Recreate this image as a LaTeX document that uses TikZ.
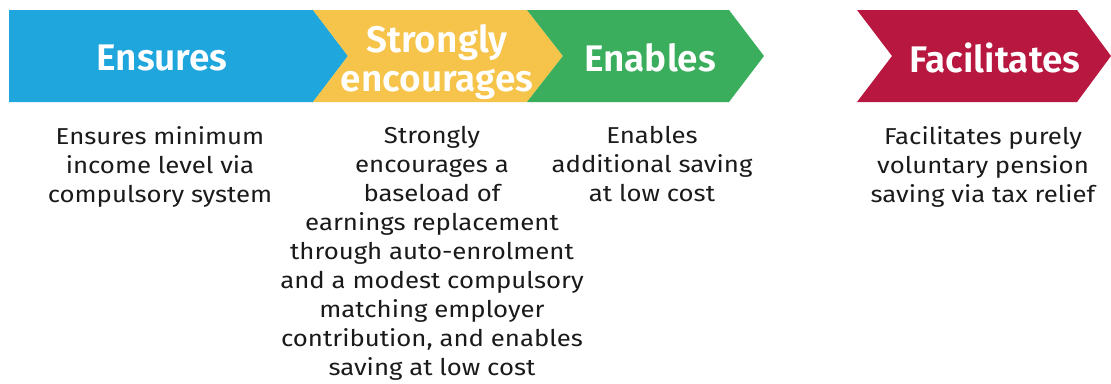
\documentclass[tikz,border=0pt]{standalone}
\usepackage{fontspec}
\setmainfont{Fira Sans}
\newfontfamily\headfont{Fira Sans SemiBold}
\newfontfamily\bodyfont{Fira Sans}[FakeStretch=1.12]
\definecolor{ensblue}{HTML}{1EA6DD}
\definecolor{encyellow}{HTML}{F6C44B}
\definecolor{enagreen}{HTML}{3AAE5C}
\definecolor{facred}{HTML}{B8183F}
\definecolor{bodytext}{HTML}{1A1A1A}
\begin{document}
\begin{tikzpicture}[x=1pt,y=-1pt]
        \tikzstyle{head}=[text=white,font=\headfont\fontsize{37}{39}\selectfont,align=center,inner sep=0pt]
        \tikzstyle{body}=[text=bodytext,font=\bodyfont\fontsize{23}{29}\selectfont,align=center,anchor=north,inner sep=0pt]
        \useasboundingbox (0,0) rectangle (1111,383);
       \begin{scope}
         % chevrons
         \fill[ensblue] (9,10) -- (313,10) -- (348,56) -- (313,102) -- (9,102) -- cycle;
         \fill[encyellow] (313,10) -- (527,10) -- (563,56) -- (527,102) -- (313,102) -- (348,56) -- cycle;
         \fill[enagreen] (527,10) -- (729,10) -- (764,56) -- (729,102) -- (527,102) -- (563,56) -- cycle;
         \fill[facred] (857,10) -- (1077,10) -- (1111,56) -- (1077,102) -- (857,102) -- (892,56) -- cycle;
         \node [head] (ensures) at (162,58) {Ensures};
         \node [head] (encourages) at (437,62) {Strongly\\encourages};
         \node [head] (enables) at (650,58) {Enables};
         \node [head] (facilitates) at (995,58) {Facilitates};
         \node [body] (ensurestxt) at (160,126) {Ensures minimum\\income level via\\compulsory system};
         \node [body] (encouragestxt) at (432,126) {Strongly\\encourages a\\baseload of\\earnings replacement\\through auto-enrolment\\and a modest compulsory\\matching employer\\contribution, and enables\\saving at low cost};
         \node [body] (enablestxt) at (652,126) {Enables\\additional saving\\at low cost};
         \node [body] (facilitatestxt) at (983,126) {Facilitates purely\\voluntary pension\\saving via tax relief};
        \end{scope}
      \end{tikzpicture}
\end{document}
